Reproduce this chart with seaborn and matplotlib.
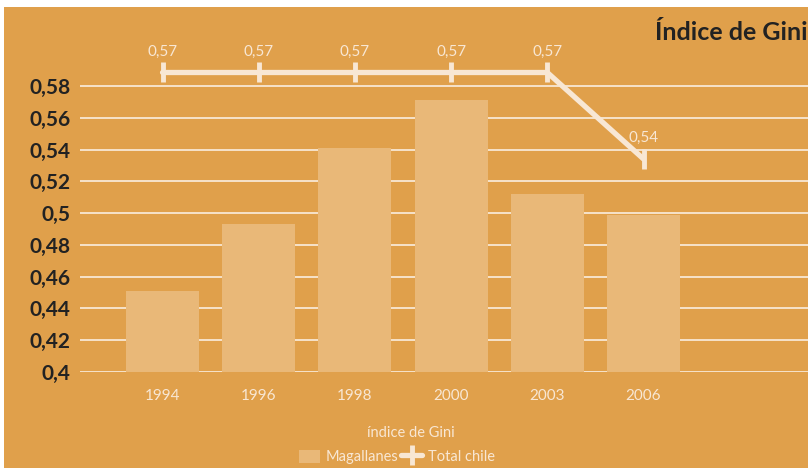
import numpy as np
import pandas as pd
import seaborn as sns
import matplotlib.pyplot as plt
from matplotlib.patches import Rectangle, Patch
from matplotlib.lines import Line2D

# data
years = ["1994", "1996", "1998", "2000", "2003", "2006"]
magallanes = [0.451, 0.493, 0.541, 0.571, 0.512, 0.499]
total_chile = [0.57, 0.57, 0.57, 0.57, 0.57, 0.54]
ytick_vals = [0.4, 0.42, 0.44, 0.46, 0.48, 0.5, 0.52, 0.54, 0.56, 0.58]
ytick_labels = ["0,4", "0,42", "0,44", "0,46", "0,48", "0,5", "0,52", "0,54", "0,56", "0,58"]

orange = "#E0A04B"
bar_col = "#E9B878"
cream = "#F8E7D4"
dark = "#222222"

sns.set_style("white")
plt.rcParams['font.family'] = ['Lato', 'DejaVu Sans']

df = pd.DataFrame({"year": years, "magallanes": magallanes, "chile": total_chile})

fig = plt.figure(figsize=(8.08, 4.68), dpi=100, facecolor="white")
# orange panel (small white margin at top and left)
fig.add_artist(Rectangle((4/808, 0), 1, 461/468, transform=fig.transFigure,
                         facecolor=orange, edgecolor="none", zorder=-10))

ax = fig.add_axes([80/808, 96/468, 728/808, 332/468])
ax.set_facecolor("none")
sns.barplot(data=df, x="year", y="magallanes", color=bar_col, width=0.76,
            saturation=1, edgecolor="none", linewidth=0, ax=ax, zorder=2)
ax.set_xlim(-0.858, 6.71)
ax.set_ylim(0.4, 0.4 + 332/1589)
ax.set_yticks(ytick_vals)
ax.set_yticklabels(ytick_labels, fontsize=15, fontweight="bold", color=dark)
ax.tick_params(axis="y", length=0, pad=7)
ax.tick_params(axis="x", length=0, pad=12, labelsize=11, labelcolor=cream)
ax.grid(axis="y", color=cream, linewidth=1.3, zorder=0)
ax.set_axisbelow(True)
ax.set_xlabel("")
ax.set_ylabel("")
for s in ax.spines.values():
    s.set_visible(False)

# Total chile drawn on a secondary (hidden) scale
ax2 = ax.twinx()
lo2 = 0.57 - 299.5/2883
ax2.set_ylim(lo2, lo2 + 332/2883)
sns.lineplot(x=np.arange(len(years)), y=total_chile, ax=ax2, color=cream,
             linewidth=3.8, marker="|", markersize=14, markeredgewidth=3.5,
             markeredgecolor=cream, solid_capstyle="round")
ax2.set_yticks([])
for s in ax2.spines.values():
    s.set_visible(False)
for i, v in enumerate(total_chile):
    ax2.annotate(f"{v:.2f}".replace(".", ","), (i, v), xytext=(0, 15),
                 textcoords="offset points", ha="center", va="center",
                 fontsize=11, color=cream)

fig.text(808/808, 1 - 32/468, "Índice de Gini", ha="right", va="center",
         fontsize=18, fontweight="bold", color=dark)
fig.text(411/808, 1 - 433/468, "índice de Gini", ha="center", va="center",
         fontsize=10.5, color=cream)

handles = [Patch(facecolor=bar_col, edgecolor="none"),
           Line2D([0], [0], color=cream, linewidth=3.8, marker="|",
                  markersize=14, markeredgewidth=3.5, markeredgecolor=cream)]
fig.legend(handles, ["Magallanes", "Total chile"], loc="center",
           bbox_to_anchor=(397/808, 1 - 457/468), ncol=2, frameon=False,
           fontsize=10.5, labelcolor=cream, handlelength=1.4, handletextpad=0.4,
           columnspacing=0.2, handleheight=1.0)

fig.savefig("out.png", dpi=100, facecolor=fig.get_facecolor())
